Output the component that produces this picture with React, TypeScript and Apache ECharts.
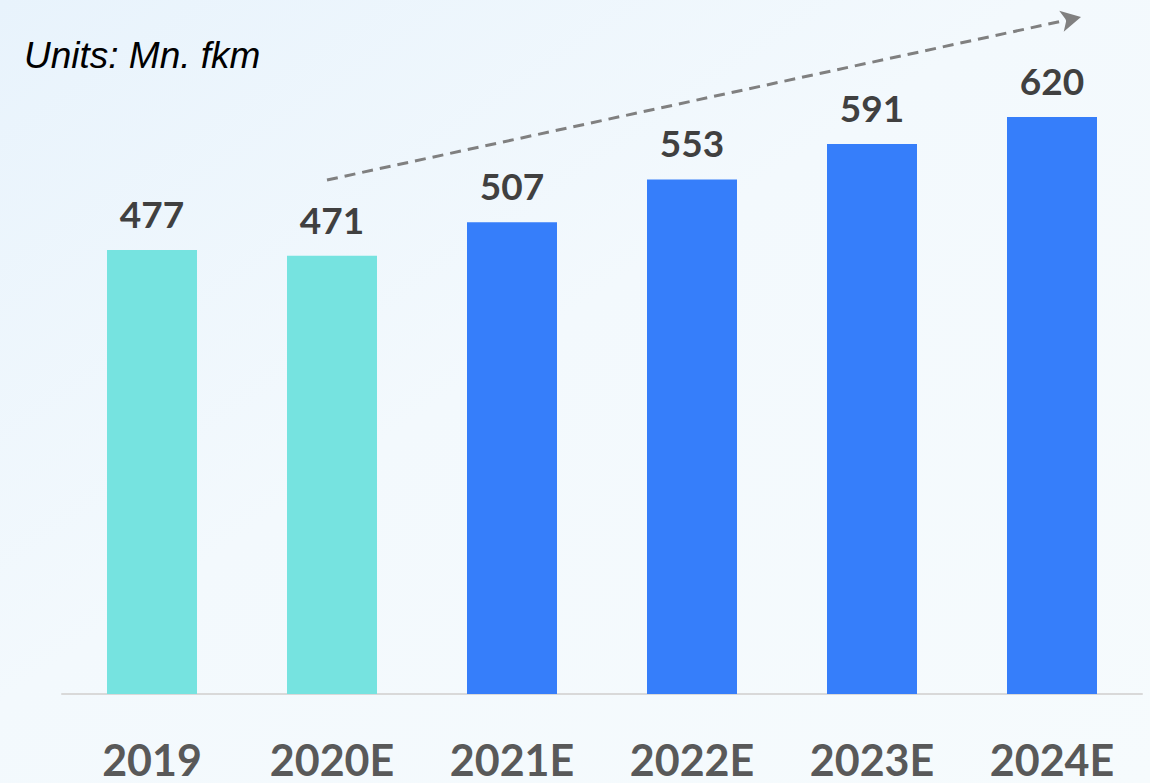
import React, { useEffect, useRef } from "react";
import * as echarts from "echarts";

const categories = ["2019", "2020E", "2021E", "2022E", "2023E", "2024E"];
const values = [477, 471, 507, 553, 591, 620];
const actualCount = 2; // first two bars are actuals (teal)
const unitsText = "Units: Mn. fkm";

const TEAL = "#76E3E0";
const BLUE = "#367EFA";

export default function App() {
  const ref = useRef<HTMLDivElement>(null);
  useEffect(() => {
    if (!ref.current) return;
    const chart = echarts.init(ref.current, null, { renderer: "svg" });
    chart.setOption({
      animation: false,
      backgroundColor: {
        type: "linear",
        x: 0,
        y: 0,
        x2: 1,
        y2: 1,
        colorStops: [
          { offset: 0, color: "#e8f3fc" },
          { offset: 0.45, color: "#f3f9fd" },
          { offset: 1, color: "#f6fbfd" },
        ],
      },
      title: {
        text: unitsText,
        left: 24,
        top: 37,
        padding: 0,
        textStyle: {
          fontFamily: "Liberation Sans",
          fontStyle: "italic",
          fontWeight: "normal",
          fontSize: 37,
          color: "#000000",
        },
      },
      grid: { left: 62, right: 8, top: 42.6, bottom: 89, containLabel: false },
      xAxis: {
        type: "category",
        data: categories,
        axisLine: { show: true, lineStyle: { color: "#d9d9d9", width: 2 } },
        axisTick: { show: false },
        axisLabel: {
          margin: 48,
          fontFamily: "Lato",
          fontWeight: "bold",
          fontSize: 43,
          lineHeight: 34,
          color: "#595959",
        },
      },
      yAxis: {
        type: "value",
        min: 0,
        max: 700,
        show: false,
        splitLine: { show: false },
      },
      series: [
        {
          type: "bar",
          barWidth: 90,
          data: values.map((v, i) => ({
            value: v,
            itemStyle: { color: i < actualCount ? TEAL : BLUE },
          })),
          label: {
            show: true,
            position: "top",
            distance: 18,
            fontFamily: "Lato",
            fontWeight: "bold",
            fontSize: 37,
            color: "#404040",
          },
          markLine: {
            silent: true,
            symbol: ["none", "arrow"],
            symbolSize: [16, 20],
            label: { show: false },
            lineStyle: { color: "#808080", width: 3, type: [11, 7] },
            data: [[{ x: 327, y: 180 }, { x: 1081, y: 17 }]],
          },
        },
      ],
    });
    return () => chart.dispose();
  }, []);
  return (
    <div
      ref={ref}
      style={{ position: "fixed", left: 0, top: 0, width: 1150, height: 783 }}
    />
  );
}
